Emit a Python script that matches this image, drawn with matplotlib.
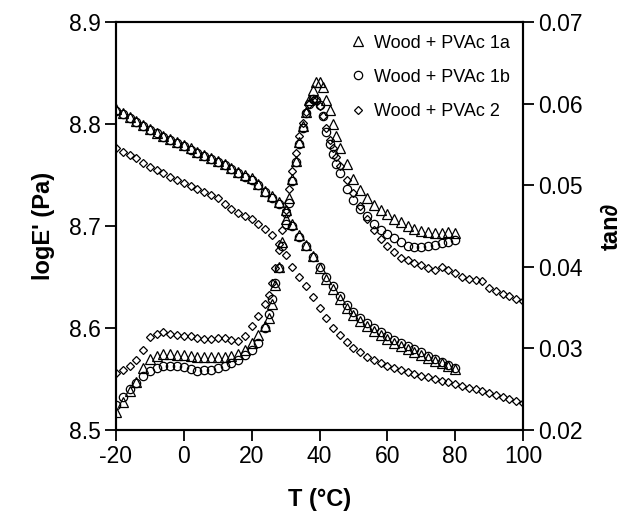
import matplotlib.pyplot as plt

plt.rcParams['font.family'] = ['Liberation Sans', 'DejaVu Sans']
plt.rcParams['axes.unicode_minus'] = False

# temperature grid for samples 1a / 1b (storage modulus)
T_e1 = [-20, -18, -16, -14, -12, -10, -8, -6, -4, -2, 0, 2, 4, 6, 8, 10, 12, 14, 16, 18,
        20, 22, 24, 26, 28, 30, 32, 34, 36, 38, 40, 42, 44, 46, 48, 50, 52, 54, 56, 58,
        60, 62, 64, 66, 68, 70, 72, 74, 76, 78, 80]
logE_1a = [8.815, 8.811, 8.807, 8.803, 8.799, 8.795, 8.791, 8.788, 8.785, 8.782,
           8.779, 8.776, 8.773, 8.770, 8.767, 8.764, 8.761, 8.757, 8.753, 8.750,
           8.747, 8.741, 8.734, 8.729, 8.724, 8.716, 8.702, 8.691, 8.681, 8.671,
           8.659, 8.648, 8.638, 8.628, 8.620, 8.613, 8.607, 8.602, 8.597, 8.593,
           8.589, 8.585, 8.582, 8.579, 8.576, 8.574, 8.571, 8.568, 8.566, 8.563, 8.560]
logE_1b = [8.813, 8.810, 8.806, 8.802, 8.798, 8.794, 8.791, 8.787, 8.784, 8.781,
           8.778, 8.775, 8.772, 8.769, 8.766, 8.763, 8.760, 8.756, 8.752, 8.748,
           8.745, 8.740, 8.733, 8.727, 8.722, 8.713, 8.700, 8.689, 8.680, 8.670,
           8.660, 8.650, 8.641, 8.631, 8.623, 8.616, 8.610, 8.605, 8.600, 8.596,
           8.592, 8.588, 8.585, 8.582, 8.579, 8.576, 8.573, 8.570, 8.567, 8.564, 8.561]

# sample 2 goes up to 100 C
T_e2 = [-20, -18, -16, -14, -12, -10, -8, -6, -4, -2, 0, 2, 4, 6, 8, 10, 12, 14, 16, 18,
        20, 22, 24, 26, 28, 30, 32, 34, 36, 38, 40, 42, 44, 46, 48, 50, 52, 54, 56, 58,
        60, 62, 64, 66, 68, 70, 72, 74, 76, 78, 80, 82, 84, 86, 88, 90, 92, 94, 96, 98, 100]
logE_2 = [8.776, 8.773, 8.770, 8.767, 8.762, 8.758, 8.755, 8.752, 8.748, 8.745,
          8.742, 8.739, 8.736, 8.733, 8.730, 8.727, 8.722, 8.717, 8.713, 8.710,
          8.707, 8.702, 8.697, 8.691, 8.682, 8.672, 8.660, 8.650, 8.641, 8.630,
          8.620, 8.610, 8.600, 8.593, 8.586, 8.580, 8.576, 8.572, 8.569, 8.566,
          8.563, 8.561, 8.559, 8.557, 8.555, 8.553, 8.552, 8.550, 8.548, 8.547,
          8.545, 8.543, 8.541, 8.540, 8.538, 8.536, 8.534, 8.532, 8.530, 8.528, 8.526]

# loss factor, denser sampling around the peak
T_t1 = [-20, -18, -16, -14, -12, -10, -8, -6, -4, -2, 0, 2, 4, 6, 8, 10, 12, 14, 16, 18,
        20, 22, 24, 25, 26, 27, 28, 29, 30, 31, 32, 33, 34, 35, 36, 37, 38, 39, 40, 41,
        42, 43, 44, 45, 46, 48, 50, 52, 54, 56, 58, 60, 62, 64, 66, 68, 70, 72, 74, 76, 78, 80]
tan_1a = [0.0222, 0.0234, 0.0248, 0.0259, 0.0276, 0.0287, 0.0291, 0.0293, 0.0293, 0.0292,
          0.0292, 0.0291, 0.0290, 0.0289, 0.0289, 0.0289, 0.0290, 0.0291, 0.0293, 0.0298,
          0.0306, 0.0316, 0.0328, 0.0337, 0.0355, 0.0378, 0.0400, 0.0430, 0.0458, 0.0484,
          0.0508, 0.0530, 0.0553, 0.0572, 0.0590, 0.0605, 0.0617, 0.0626, 0.0627, 0.0620,
          0.0605, 0.0592, 0.0575, 0.0560, 0.0546, 0.0526, 0.0508, 0.0494, 0.0484, 0.0476,
          0.0470, 0.0465, 0.0459, 0.0455, 0.0450, 0.0446, 0.0444, 0.0443, 0.0442, 0.0442,
          0.0443, 0.0441]
tan_1b = [0.0231, 0.0240, 0.0250, 0.0258, 0.0266, 0.0272, 0.0276, 0.0279, 0.0279, 0.0278,
          0.0277, 0.0275, 0.0272, 0.0273, 0.0274, 0.0276, 0.0279, 0.0282, 0.0286, 0.0292,
          0.0298, 0.0306, 0.0325, 0.0342, 0.0360, 0.0380, 0.0398, 0.0425, 0.0452, 0.0478,
          0.0505, 0.0528, 0.0550, 0.0570, 0.0588, 0.0600, 0.0606, 0.0605, 0.0598, 0.0585,
          0.0565, 0.0551, 0.0538, 0.0526, 0.0515, 0.0495, 0.0482, 0.0471, 0.0462, 0.0453,
          0.0445, 0.0440, 0.0435, 0.0430, 0.0426, 0.0424, 0.0424, 0.0426, 0.0427, 0.0429,
          0.0431, 0.0433]

T_t2 = [-20, -18, -16, -14, -12, -10, -8, -6, -4, -2, 0, 2, 4, 6, 8, 10, 12, 14, 16, 18,
        20, 22, 24, 25, 26, 27, 28, 29, 30, 31, 32, 33, 34, 35, 36, 37, 38, 39, 40, 41,
        42, 43, 44, 45, 46, 48, 50, 52, 54, 56, 58, 60, 62, 64, 66, 68, 70, 72, 74, 76,
        78, 80, 82, 84, 86, 88, 90, 92, 94, 96, 98, 100]
tan_2 = [0.0270, 0.0274, 0.0279, 0.0286, 0.0298, 0.0314, 0.0318, 0.0320, 0.0318, 0.0316,
         0.0315, 0.0315, 0.0313, 0.0312, 0.0311, 0.0313, 0.0313, 0.0310, 0.0309, 0.0315,
         0.0328, 0.0340, 0.0355, 0.0365, 0.0380, 0.0398, 0.0420, 0.0445, 0.0470, 0.0495,
         0.0518, 0.0540, 0.0560, 0.0576, 0.0590, 0.0600, 0.0605, 0.0604, 0.0597, 0.0585,
         0.0570, 0.0556, 0.0545, 0.0534, 0.0524, 0.0506, 0.0490, 0.0474, 0.0458, 0.0445,
         0.0434, 0.0425, 0.0418, 0.0411, 0.0408, 0.0405, 0.0402, 0.0398, 0.0396, 0.0400,
         0.0396, 0.0393, 0.0388, 0.0385, 0.0384, 0.0382, 0.0374, 0.0370, 0.0367, 0.0364,
         0.0361, 0.0358]

labels = ['Wood + PVAc 1a', 'Wood + PVAc 1b', 'Wood + PVAc 2']

fig = plt.figure(figsize=(6.29, 5.19), dpi=100)
ax = fig.add_axes([0.1844, 0.1715, 0.6471, 0.7861])
ax2 = ax.twinx()

mk = dict(linestyle='none', mfc='none', mec='black', mew=0.9)

# log E' on the left axis
ax.plot(T_e1, logE_1a, marker='^', ms=6.5, **mk)
ax.plot(T_e1, logE_1b, marker='o', ms=6, **mk)
ax.plot(T_e2, logE_2, marker='D', ms=4.2, **mk)

# tan delta on the right axis
h1, = ax2.plot(T_t1, tan_1a, marker='^', ms=6.5, **mk)
h2, = ax2.plot(T_t1, tan_1b, marker='o', ms=6, **mk)
h3, = ax2.plot(T_t2, tan_2, marker='D', ms=4.2, **mk)

ax.set_xlim(-20, 100)
ax.set_ylim(8.5, 8.9)
ax2.set_ylim(0.02, 0.07)
ax.set_xticks([-20, 0, 20, 40, 60, 80, 100])
ax.set_yticks([8.5, 8.6, 8.7, 8.8, 8.9])
ax2.set_yticks([0.02, 0.03, 0.04, 0.05, 0.06, 0.07])
ax2.set_yticklabels(['0.02', '0.03', '0.04', '0.05', '0.06', '0.07'])

for a in (ax, ax2):
    a.tick_params(direction='out', length=8, width=1.3, labelsize=16.5, pad=3)
    for s in a.spines.values():
        s.set_linewidth(1.5)

ax.set_xlabel('T (°C)', fontsize=17, fontweight='bold', labelpad=14)
ax.set_ylabel("logE' (Pa)", fontsize=17, fontweight='bold', labelpad=10)
ax2.set_ylabel('tan∂', fontsize=17, fontweight='bold', labelpad=12)

ax2.legend([h1, h2, h3], labels, loc='upper right', frameon=False, fontsize=13,
           handletextpad=0.4, borderaxespad=0.3, labelspacing=0.95, handlelength=1.0)

plt.savefig('out.png', dpi=100)
